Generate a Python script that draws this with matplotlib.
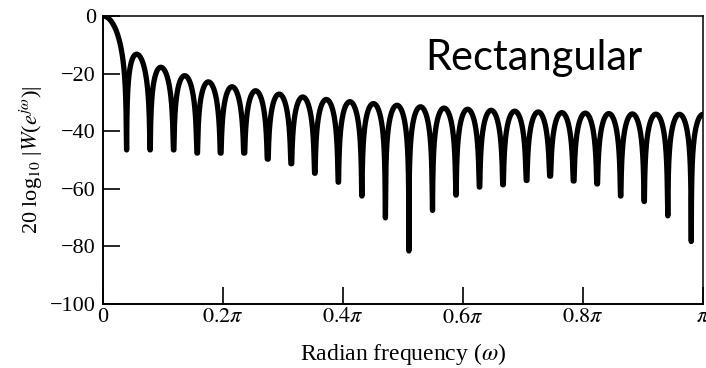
import numpy as np
import matplotlib
matplotlib.use("Agg")
import matplotlib.pyplot as plt

# Rectangular window of length M + 1 = 51
window_length = 51
# Depth (dB) at which each spectral null bottoms out, k = 1 .. 25
null_floor_db = [-46.5, -46.5, -46.5, -47.6, -47.6, -47.6, -49.7, -51.3,
                 -54.6, -57.7, -62.5, -70.1, -81.6, -67.5, -62.2, -59.4,
                 -58.6, -57.1, -55.6, -57.3, -58.3, -62.5, -64.4, -69.4,
                 -78.3]

xtick_vals = [0, 0.2, 0.4, 0.6, 0.8, 1.0]
xtick_labels = ["0", r"$0.2\pi$", r"$0.4\pi$", r"$0.6\pi$", r"$0.8\pi$", r"$\pi$"]
ytick_vals = [0, -20, -40, -60, -80, -100]
ytick_labels = ["0", "\u221220", "\u221240", "\u221260", "\u221280", "\u2212100"]

plt.rcParams["font.family"] = ["Liberation Serif", "DejaVu Serif"]
plt.rcParams["mathtext.fontset"] = "stix"

# Magnitude response of the window on a dense frequency grid (0..pi)
window = np.ones(window_length)
nfft = 2 ** 16
spec = np.abs(np.fft.rfft(window, n=nfft)) / window_length
omega = np.arange(spec.size) * 2 * np.pi / nfft
with np.errstate(divide="ignore"):
    mag_db = 20 * np.log10(spec)

# Limit how deep each null is drawn
half_gap = np.pi / window_length
for k, floor in enumerate(null_floor_db, start=1):
    center = 2 * np.pi * k / window_length
    sel = np.abs(omega - center) < half_gap
    mag_db[sel] = np.maximum(mag_db[sel], floor)

fig = plt.figure(figsize=(7.06, 3.68), dpi=100)
ax = fig.add_axes([103 / 706, 1 - 304 / 368, 600 / 706, 288 / 368])

ax.plot(omega / np.pi, mag_db, color="black", lw=3.8,
        solid_joinstyle="round", solid_capstyle="butt")

ax.set_xlim(0, 1)
ax.set_ylim(-100, 0)
ax.set_xticks(xtick_vals)
ax.set_xticklabels(xtick_labels)
ax.set_yticks(ytick_vals)
ax.set_yticklabels(ytick_labels)
ax.tick_params(direction="in", length=12, width=1.2, labelsize=16,
               top=False, right=False)
ax.tick_params(axis="x", pad=3)
ax.tick_params(axis="y", pad=5)
for side in ["left", "bottom"]:
    ax.spines[side].set_linewidth(1.4)
for side in ["top", "right"]:
    ax.spines[side].set_linewidth(1.1)

ax.set_xlabel(r"Radian frequency ($\omega$)", fontsize=17, labelpad=9)
ax.set_ylabel(r"20 log$_{10}$ |$W$($e^{j\omega}$)|", fontsize=16, labelpad=4)

ax.text(0.718, -18.75, "Rectangular", family=["Lato", "DejaVu Sans"],
        fontsize=30, ha="center", va="baseline", color="black")

fig.savefig("out.png", dpi=100)
